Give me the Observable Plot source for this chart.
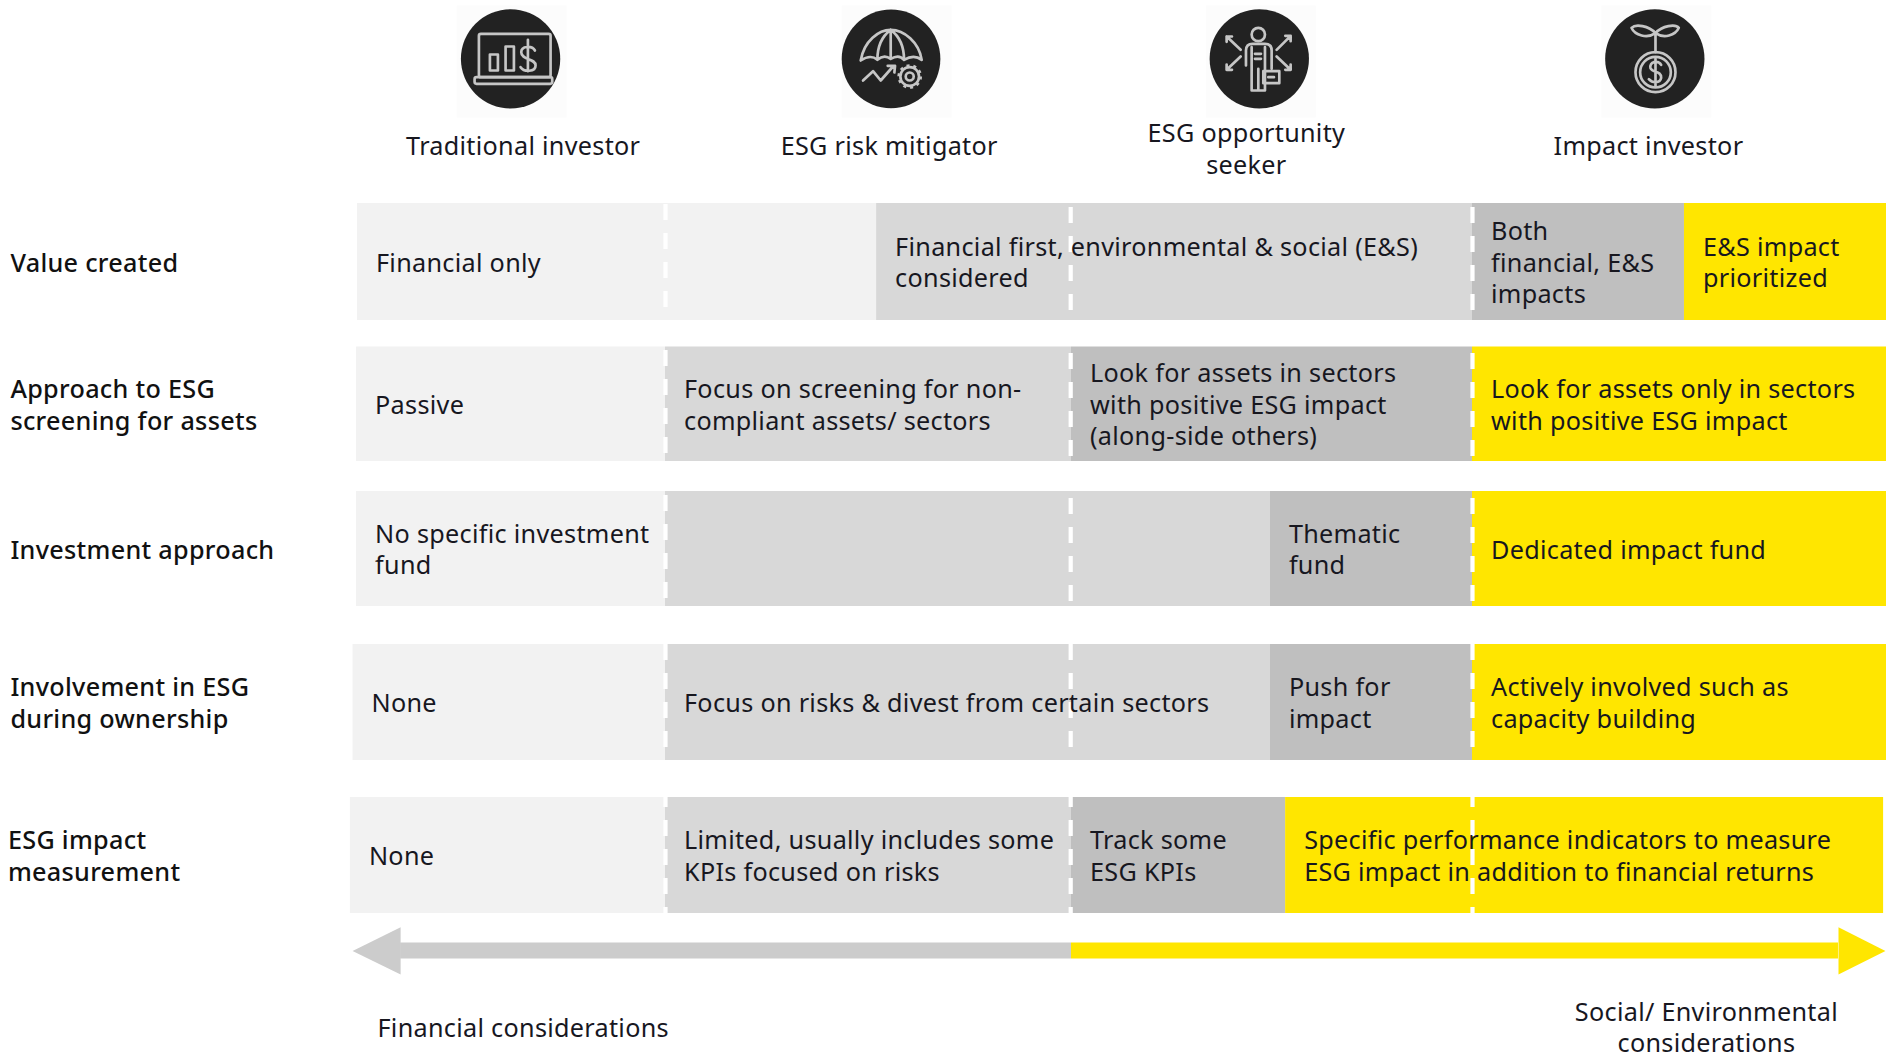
<!DOCTYPE html>
<html><head><meta charset="utf-8">
<style>html,body{margin:0;padding:0;background:#fff;overflow:hidden}svg{display:block}</style>
<script src="https://cdn.jsdelivr.net/npm/d3@7"></script>
<script src="https://cdn.jsdelivr.net/npm/@observablehq/plot@0.6"></script>
</head><body><div id="chart"></div>
<script>
// Categories
const investors = ["Traditional investor","ESG risk mitigator","ESG opportunity\nseeker","Impact investor"];
const rowLabels = ["Value created","Approach to ESG\nscreening for assets","Investment approach","Involvement in ESG\nduring ownership","ESG impact\nmeasurement"];
const tiers = ["low","mid","high","impact"];
// Cells: row, span along the investor spectrum (0..4 = the four investor columns), tier, text
const cellRow   = [0,0,0,0, 1,1,1,1, 2,2,2,2, 3,3,3,3, 4,4,4,4];
const cellStart = [0,1.52,3,3.512, -0.003,1,2,3, -0.003,1,2.496,3, -0.0146,1,2.496,3, -0.023,1,2,2.534];
const cellEnd   = [1.52,3,3.512,4, 1,2,3,4, 1,2.496,3,4, 1,2.496,3,4, 1,2,2.534,3.993];
const cellTier  = ["low","mid","high","impact","low","mid","high","impact","low","mid","high","impact","low","mid","high","impact","low","mid","high","impact"];
const cellText  = ["Financial only","Financial first, environmental & social (E&S)\nconsidered","Both\nfinancial, E&S\nimpacts","E&S impact\nprioritized",
  "Passive","Focus on screening for non-\ncompliant assets/ sectors","Look for assets in sectors\nwith positive ESG impact\n(along-side others)","Look for assets only in sectors\nwith positive ESG impact",
  "No specific investment\nfund","","Thematic\nfund","Dedicated impact fund",
  "None","Focus on risks & divest from certain sectors","Push for\nimpact","Actively involved such as\ncapacity building",
  "None","Limited, usually includes some\nKPIs focused on risks","Track some\nESG KPIs","Specific performance indicators to measure\nESG impact in addition to financial returns"];
const axisEnds = ["Financial considerations","Social/ Environmental\nconsiderations"];

// Scales (layout of the sheet)
const stageDomain = [0,1,2,3,4], stageRange = [357,665,1071,1472,1886];
const yDomain = [-1,-0.5,0,.8,1,1.8,2,2.8,3,3.8,4,4.8,4.9,4.95,5,5.05,5.1,5.5];
const yRange  = [60,146,203,320,346.5,461,491,606,644,760,797,913,926.7,942.5,950.5,958.5,974,1028];

const ink="#17171f", font="'Noto Sans', sans-serif", size=25.2;

const wrap = inner => "data:image/svg+xml;utf8,"+encodeURIComponent(
 `<svg xmlns="http://www.w3.org/2000/svg" viewBox="0 0 360 360"><defs><filter id="b"><feGaussianBlur stdDeviation="1.8"/></filter></defs><rect x="18" y="15" width="330" height="336" fill="#fcfcfc"/><g filter="url(#b)">${inner}</g></svg>`);
const g = s => `<g fill="none" stroke="#c6c6c6" stroke-width="8" stroke-linecap="round" stroke-linejoin="round">${s}</g>`;
const icons = [
 wrap(`<circle cx="180" cy="175" r="149" fill="#242424"/>`+g(`<rect x="85" y="100" width="215" height="130" rx="6"/><rect x="72" y="230" width="233" height="20" rx="6"/><rect x="118" y="162" width="24" height="48"/><rect x="165" y="138" width="25" height="72"/><path d="M253 150C245 135 212 135 212 155C212 180 255 172 255 195C255 215 220 215 210 200M232 118V212"/>`)),
 wrap(`<circle cx="166" cy="175" r="148" fill="#242424"/>`+g(`<path d="M75 180C85 120 130 88 165 88C205 88 250 125 258 178Q235 160 205 178Q190 160 165 175Q145 160 125 178Q105 160 75 180M165 88C135 110 125 145 125 178M165 88V175M165 88C195 110 205 145 205 178M82 240L112 212L135 240L172 198M156 196L178 196L176 216"/><circle cx="222" cy="228" r="12"/><circle cx="222" cy="228" r="28"/><circle cx="222" cy="228" r="33" stroke-width="8" stroke-dasharray="9 11.7" stroke-linecap="butt"/>`)),
 wrap(`<circle cx="178" cy="175" r="149" fill="#242424"/>`+g(`<circle cx="175" cy="102" r="20"/><path d="M138 195V150Q138 130 158 130H195Q215 130 215 150V205M155 140V270H175V205M175 270H195V140M165 160H183M165 175H183"/><rect x="190" y="212" width="48" height="36"/><path d="M205 230H222M80 108L122 148M80 108H96M80 108V124M272 106L230 148M272 106H256M272 106V122M80 208L122 168M80 208H96M80 208V192M272 208L230 168M272 208H256M272 208V192"/>`)),
 wrap(`<circle cx="178" cy="175" r="149" fill="#242424"/>`+g(`<path d="M180 98C160 75 120 70 108 82C118 105 155 115 180 98ZM180 98C200 75 240 70 250 82C240 105 205 115 180 98ZM180 98V155M197 193C188 178 160 183 165 203C170 218 198 210 197 232C194 250 170 248 160 236M180 175V258"/><circle cx="180" cy="215" r="60"/><circle cx="180" cy="215" r="46"/>`))
];

// Rows / tables for the library
const cells = cellRow.map((r,i)=>({r,start:cellStart[i],end:cellEnd[i],tier:cellTier[i],text:cellText[i]}));
const rows = rowLabels.map((label,i)=>({label,y:i,x:i===4?-1.135:-1.127}));
const heads = investors.map((label,i)=>({label,x:[0.538,1.551,2.436,3.425][i],y:i===2?-0.474:-0.5}));
const iconRows = icons.map((src,i)=>({src,x:[0.497,1.567,2.47,3.442][i],y:-1}));
const ends = axisEnds.map((label,i)=>({label,x:[0.538,3.565][i],y:5.5}));
const leftHead=[{x:-0.016,y:5},{x:0.14,y:4.9},{x:0.14,y:5.1}], rightHead=[{x:3.9975,y:5},{x:3.884,y:4.9},{x:3.884,y:5.1}];

// White dashed column guides: lead of first dash per row and column
const dashLead=[[1,4,4],[3.5,6.5,6.5],[4,7,7],[0,0,0],[-6,-6,-6]];
const dashX=[1,1.998,3];
const dashes=[];
dashLead.forEach((leads,r)=>leads.forEach((lead,c)=>dashes.push(
  Plot.ruleX([dashX[c]],{x:d=>d,y1:()=>r,y2:()=>r+.8,stroke:"#fff",strokeWidth:4.2,strokeDasharray:"16 13",strokeDashoffset:29-lead})
)));

const txt={fill:ink,fontSize:size,fontFamily:font,lineHeight:1.255};
const chart = Plot.plot({
  width:1893,height:1055,margin:0,
  style:{background:"#fff",fontFamily:font,letterSpacing:"0.3px"},
  x:{type:"linear",domain:stageDomain,range:stageRange,axis:null},
  y:{type:"linear",domain:yDomain,range:yRange,axis:null},
  color:{type:"ordinal",domain:tiers,range:["#f2f2f2","#d8d8d8","#bfbfbf","#ffe600"]},
  marks:[
    Plot.rect(cells,{x1:"start",x2:"end",y1:"r",y2:d=>d.r+.8,fill:"tier"}),
    ...dashes,
    Plot.rect([{a:0.14,b:2}],{x1:"a",x2:"b",y1:()=>4.95,y2:()=>5.05,fill:"#cccccc"}),
    Plot.rect([{a:2,b:3.884}],{x1:"a",x2:"b",y1:()=>4.95,y2:()=>5.05,fill:"#ffe600"}),
    Plot.line(leftHead,{x:"x",y:"y",fill:"#cccccc",stroke:null}),
    Plot.line(rightHead,{x:"x",y:"y",fill:"#ffe600",stroke:null}),
    Plot.image(iconRows,{x:"x",y:"y",src:"src",width:120,height:120}),
    Plot.text(cells,{x:"start",y:d=>d.r+.4,text:"text",textAnchor:"start",dx:18.5,dy:-0.5,lineAnchor:"middle",...txt}),
    Plot.text(rows,{x:"x",y:d=>d.y+.4,text:"label",textAnchor:"start",dy:-0.5,lineAnchor:"middle",...txt,fontWeight:500,fill:"#111",ariaLabel:"row label"}),
    Plot.text(heads,{x:"x",y:"y",text:"label",textAnchor:"middle",dy:-1.5,lineAnchor:"middle",...txt}),
    Plot.text(ends,{x:"x",y:"y",text:"label",textAnchor:"middle",dy:-2,lineAnchor:"middle",...txt})
  ]
});
d3.select(chart).selectAll('g[aria-label="row label"] text').style("letter-spacing","0.45px");
document.getElementById("chart").append(chart);
</script></body></html>
